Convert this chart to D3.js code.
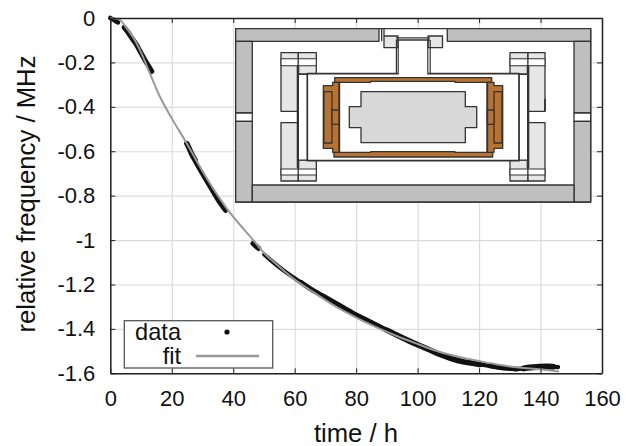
<!DOCTYPE html>
<html>
<head>
<meta charset="utf-8">
<script src="https://cdn.jsdelivr.net/npm/d3@7"></script>
<style>
  html, body { margin: 0; background: #fff; }
  svg { display: block; font-family: "Liberation Sans", Arial, sans-serif; }
  .tick text { font-size: 22px; fill: #111; }
</style>
</head>
<body>
<svg width="635" height="446"></svg>
<script>
const xTicks = [0, 20, 40, 60, 80, 100, 120, 140, 160];
const yTicks = [0, -0.2, -0.4, -0.6, -0.8, -1, -1.2, -1.4, -1.6];

const seg1T = [0, 0.8, 1.6, 2.5];
const seg1F = [0, -0.006, -0.012, -0.02];
const seg2T = [4.5, 5.5, 6.5, 7.5, 8.6, 9.5, 10.5, 11.5, 12.5, 13.5];
const seg2F = [-0.042, -0.06, -0.08, -0.1, -0.122, -0.145, -0.17, -0.195, -0.218, -0.24];
const seg3T = [24.9, 25.6, 26.4, 27.6];
const seg3F = [-0.565, -0.585, -0.61, -0.64];
const seg4T = [27.6, 29, 30.5, 32, 33.5, 35, 36.5, 37.5];
const seg4F = [-0.645, -0.68, -0.715, -0.75, -0.785, -0.82, -0.85, -0.868];
const seg5T = [46.5, 47.3, 48.2];
const seg5F = [-1.015, -1.026, -1.037];
const seg6T = [50.1, 52, 55.8, 58.5, 62, 65.3, 69, 72.6, 76, 80.2, 83.5, 86.7, 90, 93.2, 97, 100.8, 104, 107.3, 110.5, 113.8, 117, 120.3, 123.5, 126.8, 129.5, 132.2, 134.5, 136.6, 139.3, 142, 144, 145.7];
const seg6F = [-1.065, -1.088, -1.131, -1.158, -1.19, -1.221, -1.25, -1.278, -1.305, -1.338, -1.361, -1.383, -1.406, -1.428, -1.453, -1.476, -1.495, -1.515, -1.531, -1.545, -1.553, -1.56, -1.567, -1.574, -1.578, -1.581, -1.578, -1.574, -1.571, -1.569, -1.57, -1.572];

const fitT = [0, 1.5, 3.2, 5, 8, 10, 12.9, 16, 20, 24.9, 30, 35, 39.5, 47, 50, 55, 60, 65, 72.6, 80.2, 86.7, 93.2, 100, 107, 114, 120, 127, 133, 140, 146];
const fitF = [0, -0.002, -0.009, -0.04, -0.1, -0.155, -0.25, -0.35, -0.452, -0.565, -0.69, -0.8, -0.887, -1.008, -1.058, -1.12, -1.178, -1.225, -1.293, -1.35, -1.393, -1.432, -1.468, -1.503, -1.528, -1.545, -1.563, -1.574, -1.582, -1.592];

const legendLabels = ['data', 'fit'];

const svg = d3.select('svg');
const plotLeft = 110.3, plotRight = 602, plotTop = 18, plotBottom = 373.3;
const x = d3.scaleLinear().domain([0, 160]).range([plotLeft, plotRight]);
const y = d3.scaleLinear().domain([0, -1.6]).range([plotTop, plotBottom]);

// grid
svg.append('g').attr('transform', `translate(0,${plotBottom})`)
  .call(d3.axisBottom(x).tickValues(xTicks).tickSize(-(plotBottom - plotTop)).tickFormat(''))
  .call(g => g.select('.domain').remove())
  .call(g => g.selectAll('line').attr('stroke', '#dcdcdc').attr('stroke-width', 1.2));
svg.append('g').attr('transform', `translate(${plotLeft},0)`)
  .call(d3.axisLeft(y).tickValues(yTicks).tickSize(-(plotRight - plotLeft)).tickFormat(''))
  .call(g => g.select('.domain').remove())
  .call(g => g.selectAll('line').attr('stroke', '#dcdcdc').attr('stroke-width', 1.2));

// data
const trace = d3.line().x(d => x(d[0])).y(d => y(d[1])).curve(d3.curveMonotoneX);
function drawTrace(points, width) {
  svg.append('path')
    .attr('d', trace(points))
    .attr('fill', 'none').attr('stroke', '#111')
    .attr('stroke-width', width).attr('stroke-linecap', 'round').attr('stroke-linejoin', 'round');
}
const zip = (ts, fs) => ts.map((t, j) => [t, fs[j]]);
const segments = [[seg1T, seg1F], [seg2T, seg2F], [seg3T, seg3F], [seg4T, seg4F], [seg5T, seg5F], [seg6T, seg6F]];
const widths = [4.6, 5, 5.4, 4.4, 5.4, 4.2];
segments.forEach(([ts, fs], i) => drawTrace(zip(ts, fs), widths[i]));
// the scatter widens the trace along the long run
const late = zip(seg6T, seg6F);
[[62, 90, 4.8], [90, 122, 5.6], [122, 132.2, 4.8], [134.5, 144, 6]].forEach(([from, to, width]) => {
  drawTrace(late.filter(d => d[0] >= from && d[0] <= to), width);
});

// fit
svg.append('path')
  .attr('d', d3.line().x(d => x(d)).y((d, i) => y(fitF[i])).curve(d3.curveCatmullRom)(fitT))
  .attr('fill', 'none').attr('stroke', '#999').attr('stroke-width', 2);

// inset schematic (drawn in page pixels)
const inset = svg.append('g').attr('stroke-linejoin', 'round');
const ink = '#333';
function box(x0, y0, x1, y1, fill, sw = 1.3, stroke = ink) {
  inset.append('rect').attr('x', x0).attr('y', y0).attr('width', x1 - x0).attr('height', y1 - y0)
    .attr('fill', fill).attr('stroke', stroke).attr('stroke-width', sw);
}
function poly(pts, fill, sw = 1.3) {
  inset.append('polygon').attr('points', pts.map(p => p.join(',')).join(' '))
    .attr('fill', fill).attr('stroke', ink).attr('stroke-width', sw);
}
function seg(x0, y0, x1, y1, sw = 1.3) {
  inset.append('line').attr('x1', x0).attr('y1', y0).attr('x2', x1).attr('y2', y1)
    .attr('stroke', ink).attr('stroke-width', sw);
}
const wall = '#bfbfbf', pale = '#e6e6e6', core = '#d8d8d8', copper = '#b87333';

box(235.7, 28.7, 590.7, 202, '#fff', 1.3);
box(235.7, 28.7, 379, 41.3, wall);
box(447.3, 28.7, 590.7, 41.3, wall);
seg(381.7, 28.7, 381.7, 41.3);
seg(384, 28.7, 384, 36);
box(235.7, 41.3, 252.3, 113, wall);
box(235.7, 113, 252.3, 121.3, '#fff');
box(235.7, 121.3, 252.3, 202, wall);
box(574, 41.3, 590.7, 113, wall);
box(574, 113, 590.7, 121.3, '#fff');
box(574, 121.3, 590.7, 202, wall);
box(252.3, 185, 574, 202, wall);

// top mount and neck
box(384, 36, 398, 47.7, pale);
box(428, 36, 442.5, 47.7, pale);
seg(396, 37.8, 430, 37.8, 1.3);
seg(396, 40, 430, 40, 1.3);
[396.4, 398.2, 427.8, 430.2].forEach(nx => seg(nx, 40, nx, 75, 1.2));

// suspension blocks, upper and lower
[[281, 52.7, 298.3, 111.3], [281, 122.7, 298.3, 181],
 [298.3, 52.7, 316.3, 74], [298.3, 160, 316.3, 181],
 [510, 52.7, 528, 74], [528, 52.7, 545, 111.3],
 [510, 160, 528, 181], [528, 122.7, 545, 181]]
  .forEach(b => box(b[0], b[1], b[2], b[3], pale));
// white bands across the block ends
[[281, 298.3], [298.3, 316.3], [510, 528], [528, 545]].forEach(c => {
  box(c[0], 58.7, c[1], 65.7, '#fff', 1.1);
  box(c[0], 169, c[1], 175, '#fff', 1.1);
});
seg(298, 66, 298, 168, 2.6);
seg(528, 66, 528, 168, 2.6);
seg(545, 99, 545, 111.3, 1.8);
box(298.5, 74.5, 307.5, 160, '#fff', 1);
box(519, 74.5, 527.5, 160, '#fff', 1);

// carrier frame, open where the neck joins
box(307.3, 73.7, 519, 160.7, '#fff', 1.7);
inset.append('rect').attr('x', 398.8).attr('y', 71).attr('width', 28.4).attr('height', 4).attr('fill', '#fff');

// copper parts
poly([[334.7, 77.7], [491.7, 77.7], [491.7, 82.3], [455, 82.3], [455, 81.3], [370.7, 81.3], [370.7, 82.3], [334.7, 82.3]], copper);
poly([[334, 152.3], [370.7, 152.3], [370.7, 151.7], [455, 151.7], [455, 152.3], [492.7, 152.3], [492.7, 157], [334, 157]], copper);
poly([[332.7, 82.3], [339.3, 82.3], [339.3, 152.3], [332.7, 152.3], [332.7, 148.3], [323.3, 148.3], [323.3, 85.7], [332.7, 85.7]], copper);
box(324, 91.7, 332, 143, copper);
box(332, 110, 339.3, 124.3, copper);
poly([[494, 82.3], [487.3, 82.3], [487.3, 152.3], [494, 152.3], [494, 148.3], [502.7, 148.3], [502.7, 85.7], [494, 85.7]], copper);
box(494, 91.7, 502, 143, copper);
box(487.3, 110, 494, 124.3, copper);
seg(339.3, 82.3, 339.3, 152.3, 1.8);
seg(487.3, 82.3, 487.3, 152.3, 1.8);

// core
poly([[361, 91.7], [465.3, 91.7], [465.3, 106.7], [476.7, 106.7], [476.7, 127.7], [465.3, 127.7], [465.3, 142.7], [361, 142.7], [361, 127.7], [349.3, 127.7], [349.3, 106.7], [361, 106.7]], core);

// axes on all four sides, ticks pointing in
const ax = '#222';
function styleAxis(g) {
  g.attr('font-family', null).attr('font-size', null);
  g.select('.domain').attr('stroke', ax).attr('stroke-width', 1.5);
  g.selectAll('.tick line').attr('stroke', ax).attr('stroke-width', 1);
}
svg.append('g').attr('transform', `translate(0,${plotTop})`)
  .call(d3.axisTop(x).tickValues(xTicks).tickSizeOuter(0).tickSizeInner(-5).tickFormat('')).call(styleAxis);
svg.append('g').attr('transform', `translate(${plotRight},0)`)
  .call(d3.axisRight(y).tickValues(yTicks).tickSizeOuter(0).tickSizeInner(-5).tickFormat('')).call(styleAxis);
svg.append('g').attr('transform', `translate(0,${plotBottom})`)
  .call(d3.axisBottom(x).tickValues(xTicks).tickSizeOuter(0).tickSizeInner(-5).tickPadding(17).tickFormat(String)).call(styleAxis);
svg.append('g').attr('transform', `translate(${plotLeft},0)`)
  .call(d3.axisLeft(y).tickValues(yTicks).tickSizeOuter(0).tickSizeInner(-5).tickPadding(15).tickFormat(String)).call(styleAxis);

svg.append('text').attr('x', 356).attr('y', 441.5).attr('text-anchor', 'middle')
  .attr('font-size', 25.7).attr('fill', '#111').text('time / h');
svg.append('text').attr('transform', 'translate(34.5,194) rotate(-90)').attr('text-anchor', 'middle')
  .attr('font-size', 25.7).attr('fill', '#111').text('relative frequency / MHz');

// legend
svg.append('rect').attr('x', 124.3).attr('y', 320.7).attr('width', 148.4).attr('height', 47.3)
  .attr('fill', '#fff').attr('stroke', '#555').attr('stroke-width', 1.3);
const legendY = d3.scalePoint().domain(legendLabels).range([340, 364]);
svg.selectAll('.legend-label').data(legendLabels).join('text')
  .attr('class', 'legend-label').attr('x', 181).attr('y', d => legendY(d))
  .attr('text-anchor', 'end').attr('font-size', 23.6).attr('fill', '#111').text(d => d);
svg.append('circle').attr('cx', 227).attr('cy', 332).attr('r', 2.6).attr('fill', '#111');
svg.append('line').attr('x1', 196).attr('x2', 259).attr('y1', 356).attr('y2', 356)
  .attr('stroke', '#999').attr('stroke-width', 2.4);
</script>
</body>
</html>
